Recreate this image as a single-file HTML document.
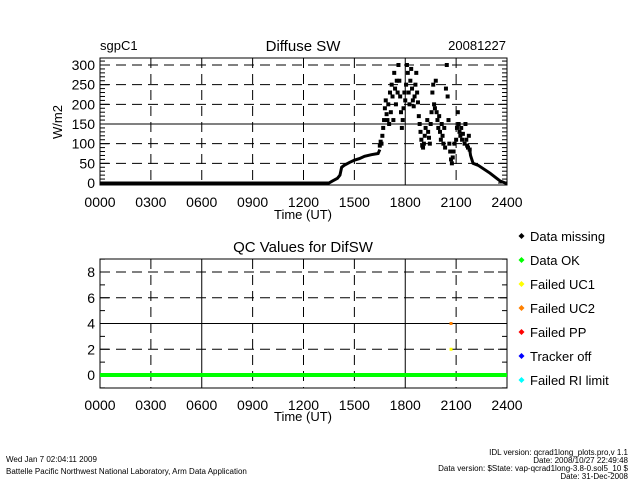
<!DOCTYPE html>
<html><head><meta charset="utf-8"><style>
html,body{margin:0;padding:0;background:#fff}
svg text{font-family:"Liberation Sans",sans-serif;fill:#000}
</style></head><body>
<svg id="c" width="640" height="480" xmlns="http://www.w3.org/2000/svg">
<text x="100" y="50" font-size="13">sgpC1</text>
<text x="303" y="51" font-size="15" text-anchor="middle">Diffuse SW</text>
<text x="506" y="50" font-size="13" text-anchor="end">20081227</text>
<text x="0" y="0" font-size="13" transform="translate(62,122) rotate(-90)" text-anchor="middle">W/m2</text>
<text x="303" y="219" font-size="13" text-anchor="middle">Time (UT)</text>
<text x="303" y="252" font-size="15" text-anchor="middle">QC Values for DifSW</text>
<text x="303" y="421" font-size="13" text-anchor="middle">Time (UT)</text>
<g id="topPlot"></g>
<g id="botPlot"></g>
<g id="leg"></g>
<text x="6" y="462" font-size="8">Wed Jan  7 02:04:11 2009</text>
<text x="6" y="474" font-size="8">Battelle Pacific Northwest National Laboratory, Arm Data Application</text>
<text x="628" y="455" font-size="8" text-anchor="end">IDL version: qcrad1long_plots.pro,v 1.1</text>
<text x="628" y="463" font-size="8" text-anchor="end">Date: 2008/10/27 22:49:48</text>
<text x="628" y="471" font-size="8" text-anchor="end">Data version: $State: vap-qcrad1long-3.8-0.sol5_10 $</text>
<text x="628" y="479" font-size="8" text-anchor="end">Date: 31-Dec-2008</text>
</svg>
<script>
const xTicks=["0000","0300","0600","0900","1200","1500","1800","2100","2400"];
const yTicksTop=[0,50,100,150,200,250,300];
const yTicksQC=[0,2,4,6,8];
const smoothHours=[0,13.5,13.7,14.0,14.15,14.25,14.4,14.7,15,15.3,15.6,16.0,16.4,16.5];
const smoothVals=[0,0,5,12,20,40,45,52,58,62,68,72,75,85];
const scatterHours=[16.5,16.55,16.6,16.65,16.7,16.75,16.8,16.85,16.9,16.95,17.0,17.05,17.1,17.15,17.2,17.25,17.3,17.35,17.4,17.45,17.5,17.55,17.6,17.65,17.7,17.75,17.8,17.85,17.9,17.95,18.0,18.05,18.1,18.15,18.2,18.25,18.3,18.35,18.4,18.45,18.5,18.55,18.6,18.65,18.7,18.75,18.8,18.85,18.9,18.95,19.0,19.05,19.1,19.15,19.2,19.3,19.35,19.4,19.45,19.5,19.55,19.6,19.65,19.7,19.75,19.8,19.85,19.9,19.95,20.0,20.05,20.1,20.15,20.2,20.25,20.3,20.35,20.4,20.45,20.5,20.55,20.6,20.65,20.7,20.75,20.8,20.85,20.9,21.0,21.05,21.1,21.15,21.2,21.25,21.3,21.35,21.4,21.5,21.55,21.6,21.65,21.7,21.75,21.8];
const scatterVals=[95,105,100,120,140,160,190,210,175,160,200,150,230,180,250,220,160,280,240,200,260,230,300,260,220,180,140,160,190,230,210,250,300,280,230,200,260,290,240,210,195,220,250,280,230,205,170,150,130,110,95,90,100,120,140,160,130,115,100,150,180,230,250,200,190,260,180,160,140,170,130,110,150,120,100,140,90,240,300,220,160,100,80,60,50,65,80,100,110,140,180,150,130,120,140,110,125,100,150,110,95,90,120,85];
const tailHours=[21.8,21.85,22.0,22.3,23,23.6,23.9,24];
const tailVals=[85,70,50,45,25,5,0,0];
const qcOkHours=[0,24];
const qcOkVals=[0,0];
const qcUC1Hours=[20.7];const qcUC1Vals=[2];
const qcUC2Hours=[20.7];const qcUC2Vals=[4];
const legendLabels=["Data missing","Data OK","Failed UC1","Failed UC2","Failed PP","Tracker off","Failed RI limit"];
const legendColors=["#000","#00ff00","#ffff00","#ff8000","#ff0000","#0000ff","#00ffff"];

const NS="http://www.w3.org/2000/svg";
function mk(parent,tag,attrs){const e=document.createElementNS(NS,tag);for(const k in attrs)e.setAttribute(k,attrs[k]);parent.appendChild(e);return e;}
const X0=100,X1=507;
const xs=h=>X0+(X1-X0)*h/24;
const ysTop=v=>183-v*(118/300);
const ysQC=v=>375-v*(103/8);

function frame(g,yTop,yBot,yTicks,ys,solidY,solidX,minorStep,ymin,ymax,name){
  const r=mk(g,'rect',{x:X0,y:yTop,width:X1-X0,height:yBot-yTop,fill:'none',stroke:'#000','stroke-width':1});
  
  
  xTicks.forEach((t,i)=>{
    const x=xs(i*3);
    if(i>0&&i<8){const l=mk(g,'line',{x1:x,x2:x,y1:yTop,y2:yBot,stroke:'#000','stroke-dasharray':solidX.includes(i)?'none':'10,6'});
      
      }
    const tx=mk(g,'text',{x:x,y:yBot+22,'font-size':14,'text-anchor':'middle'});tx.textContent=t;
    
    
  });
  for(let v=ymin;v<=ymax;v+=minorStep){const y=ys(v);if(y<yTop||y>yBot)continue;
    const big=yTicks.includes(v);const L=big?9:5;
    mk(g,'line',{x1:X0,x2:X0+L,y1:y,y2:y,stroke:'#000'});mk(g,'line',{x1:X1-L,x2:X1,y1:y,y2:y,stroke:'#000'});}
  yTicks.forEach(v=>{const y=ys(v);
    if(v>0){const l=mk(g,'line',{x1:X0,x2:X1,y1:y,y2:y,stroke:'#000','stroke-dasharray':solidY.includes(v)?'none':'10,6'});
      
      }
    const tx=mk(g,'text',{x:X0-5,y:y+5,'font-size':14,'text-anchor':'end'});tx.textContent=v;
    
    
  });
}
const topG=document.getElementById('topPlot');
frame(topG,58,185,yTicksTop,ysTop,[150],[6],10,0,320,'top');
const ln=(g,H,V,ys,w,c,nm)=>{const p=mk(g,'polyline',{points:H.map((h,i)=>xs(h)+','+ys(V[i])).join(' '),fill:'none',stroke:c,'stroke-width':w});
  
  };
ln(topG,smoothHours,smoothVals,ysTop,3,'#000','diffuse-sw-line');
ln(topG,tailHours,tailVals,ysTop,3,'#000','diffuse-sw-tail');
scatterHours.forEach((h,i)=>{const r=mk(topG,'rect',{x:xs(h)-2,y:ysTop(scatterVals[i])-2,width:4,height:4,fill:'#000'});
  
  });

const botG=document.getElementById('botPlot');
frame(botG,259,388,yTicksQC,ysQC,[4],[2,6],1,-1,9,'qc');
ln(botG,qcOkHours,qcOkVals,ysQC,4,'#00ff00','qc-data-ok-line');
qcUC1Hours.forEach((h,i)=>{const r=mk(botG,'rect',{x:xs(h)-1.5,y:ysQC(qcUC1Vals[i])-1.5,width:3,height:3,fill:'#ffff00'});
  
  });
qcUC2Hours.forEach((h,i)=>{const r=mk(botG,'rect',{x:xs(h)-1.5,y:ysQC(qcUC2Vals[i])-1.5,width:3,height:3,fill:'#ff8000'});
  
  });

const leg=document.getElementById('leg');
const legY=[236,260,284,308,332,356,380];
legendLabels.forEach((t,i)=>{
  const g=mk(leg,'g',{});
  
  
  mk(g,'path',{d:`M${521.5-3},${legY[i]} L${521.5},${legY[i]-3} L${521.5+3},${legY[i]} L${521.5},${legY[i]+3}Z`,fill:legendColors[i]});
  const tx=mk(g,'text',{x:530,y:legY[i]+5,'font-size':13});tx.textContent=t;
});
</script>
</body></html>
